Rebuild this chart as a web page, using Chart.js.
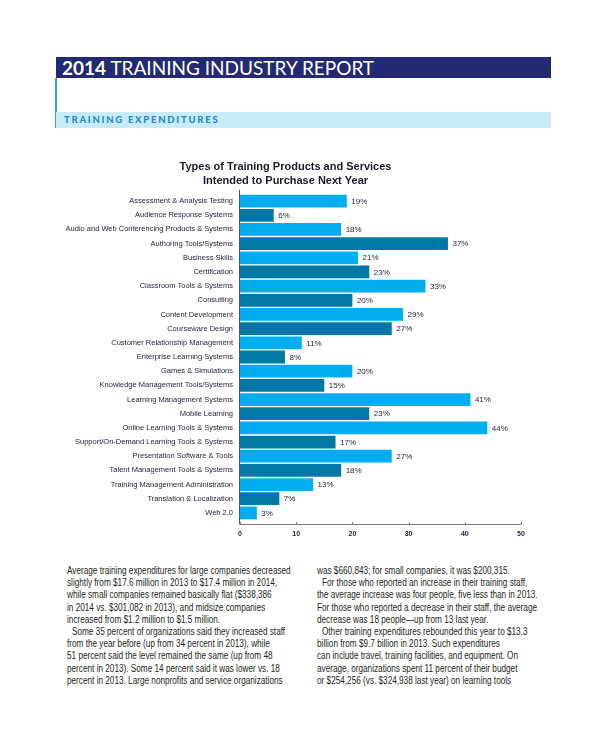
<!DOCTYPE html>
<html>
<head>
<meta charset="utf-8">
<script src="https://cdn.jsdelivr.net/npm/chart.js@4.4.1/dist/chart.umd.min.js"></script>
<style>
  html, body { margin: 0; padding: 0; background: #fff; }
  body { width: 600px; height: 730px; position: relative; overflow: hidden; }
  .band { position: absolute; left: 56px; width: 495px; }
  #hdr { top: 57px; height: 21px; background: #232a72; }
  #hdr span.t { position: absolute; left: 6px; top: 0; line-height: 21px; color: #fff;
    font-family: Lato, "Open Sans", sans-serif; font-size: 19px; white-space: nowrap; }
  #sub { top: 112px; height: 16px; background: #c9eaf8; }
  #sub span { position: absolute; left: 8px; top: 0; line-height: 16px; color: #1e8ccc;
    font-family: Lato, "Open Sans", sans-serif; font-weight: 900; font-size: 9.5px; letter-spacing: 1.75px; }
  #vline { position: absolute; left: 55px; top: 78px; width: 1.5px; height: 50px; background: #29abe2; }
  #chartBox { position: absolute; left: 50px; top: 150px; width: 516px; height: 395px; }
  .col { position: absolute; top: 565px; font-family: "Liberation Sans", Arial, sans-serif;
    font-size: 10px; line-height: 12.2px; color: #231f20; white-space: nowrap;
    transform: scaleX(0.82); transform-origin: 0 0; }
  .col div.i { padding-left: 6px; }
</style>
</head>
<body>
<div id="hdr" class="band"><span class="t"><b>2014</b> TRAINING INDUSTRY REPORT</span></div>
<div id="vline"></div>
<div id="sub" class="band"><span>TRAINING EXPENDITURES</span></div>
<div id="chartBox"><canvas id="myChart" width="516" height="395"></canvas></div>

<div class="col" style="left:67px">
  <div>Average training expenditures for large companies decreased</div>
  <div>slightly from $17.6 million in 2013 to $17.4 million in 2014,</div>
  <div>while small companies remained basically flat ($338,386</div>
  <div>in 2014 vs. $301,082 in 2013), and midsize companies</div>
  <div>increased from $1.2 million to $1.5 million.</div>
  <div class="i">Some 35 percent of organizations said they increased staff</div>
  <div>from the year before (up from 34 percent in 2013), while</div>
  <div>51 percent said the level remained the same (up from 48</div>
  <div>percent in 2013). Some 14 percent said it was lower vs. 18</div>
  <div>percent in 2013. Large nonprofits and service organizations</div>
</div>
<div class="col" style="left:317px">
  <div>was $660,843; for small companies, it was $200,315.</div>
  <div class="i">For those who reported an increase in their training staff,</div>
  <div>the average increase was four people, five less than in 2013.</div>
  <div>For those who reported a decrease in their staff, the average</div>
  <div>decrease was 18 people—up from 13 last year.</div>
  <div class="i">Other training expenditures rebounded this year to $13.3</div>
  <div>billion from $9.7 billion in 2013. Such expenditures</div>
  <div>can include travel, training facilities, and equipment. On</div>
  <div>average, organizations spent 11 percent of their budget</div>
  <div>or $254,256 (vs. $324,938 last year) on learning tools</div>
</div>

<script>
// categorias y porcentajes
let categorias = [
  "Assessment & Analysis Testing",
  "Audience Response Systems",
  "Audio and Web Conferencing Products & Systems",
  "Authoring Tools/Systems",
  "Business Skills",
  "Certification",
  "Classroom Tools & Systems",
  "Consulting",
  "Content Development",
  "Courseware Design",
  "Customer Relationship Management",
  "Enterprise Learning Systems",
  "Games & Simulations",
  "Knowledge Management Tools/Systems",
  "Learning Management Systems",
  "Mobile Learning",
  "Online Learning Tools & Systems",
  "Support/On-Demand Learning Tools & Systems",
  "Presentation Software & Tools",
  "Talent Management Tools & Systems",
  "Training Management Administration",
  "Translation & Localization",
  "Web 2.0",
];
let valores = [19, 6, 18, 37, 21, 23, 33, 20, 29, 27, 11, 8, 20, 15, 41, 23, 44, 17, 27, 18, 13, 7, 3];
let ticks_x = [0, 10, 20, 30, 40, 50];

let color_claro = "#00aeef";
let color_oscuro = "#0078a5";
let color_texto = "#1f1f3a";

// etiquetas "xx%" al final de cada barra
const etiquetas = {
  id: "etiquetas",
  afterDatasetsDraw(chart) {
    const ctx = chart.ctx;
    const meta = chart.getDatasetMeta(0);
    ctx.save();
    ctx.font = "8px 'Liberation Sans', Arial, sans-serif";
    ctx.fillStyle = color_texto;
    ctx.textAlign = "left";
    ctx.textBaseline = "middle";
    meta.data.forEach((bar, i) => {
      ctx.fillText(chart.data.datasets[0].data[i] + "%", bar.x + 4.5, bar.y + 0.5);
    });
    ctx.restore();
  },
};

// lineas de ejes (el eje x queda un poco debajo de las barras)
const ejes = {
  id: "ejes",
  afterDraw(chart) {
    const ctx = chart.ctx;
    const a = chart.chartArea;
    const sx = chart.scales.x;
    const yb = a.bottom + 4.5;
    ctx.save();
    ctx.strokeStyle = "#7a7a7a";
    ctx.lineWidth = 1;
    ctx.beginPath();
    ctx.moveTo(a.left, yb);
    ctx.lineTo(a.right, yb);
    ticks_x.forEach((t) => {
      const px = Math.round(sx.getPixelForValue(t)) + 0.5;
      ctx.moveTo(px, yb);
      ctx.lineTo(px, yb - 2.5);
    });
    ctx.stroke();
    ctx.strokeStyle = "#555";
    ctx.beginPath();
    ctx.moveTo(Math.round(a.left) - 0.5, a.top - 4);
    ctx.lineTo(Math.round(a.left) - 0.5, yb);
    ctx.stroke();
    ctx.restore();
  },
};

var my_chart = document.getElementById("myChart");

var grafica = new Chart(my_chart, {
  type: "bar",
  plugins: [etiquetas, ejes],
  data: {
    labels: categorias,
    datasets: [
      {
        data: valores,
        backgroundColor: (c) => (c.dataIndex % 2 == 0 ? color_claro : color_oscuro),
        barPercentage: 0.9,
        categoryPercentage: 1,
      },
    ],
  },
  options: {
    indexAxis: "y",
    responsive: false,
    animation: false,
    devicePixelRatio: 1,
    layout: { padding: { top: 0, right: 45, bottom: 0, left: 0 } },
    plugins: {
      legend: { display: false },
      tooltip: { enabled: false },
      title: {
        display: true,
        text: ["Types of Training Products and Services", "Intended to Purchase Next Year"],
        color: "#1a1a2e",
        font: { family: "'Liberation Sans', Arial, sans-serif", size: 11, weight: "bold", lineHeight: 1.3 },
        padding: { top: 10, bottom: 5.4 },
      },
    },
    scales: {
      x: {
        min: 0,
        max: 50,
        grid: { display: false, drawTicks: false },
        border: { display: false },
        afterFit: (s) => { s.height = 25; },
        afterBuildTicks: (s) => { s.ticks = ticks_x.map((v) => ({ value: v })); },
        ticks: {
          color: color_texto,
          padding: 9.5,
          maxRotation: 0,
          font: { family: "'Liberation Sans', Arial, sans-serif", size: 7, weight: "bold" },
        },
      },
      y: {
        grid: { display: false, drawTicks: false },
        border: { display: false },
        afterFit: (s) => { s.width = 190; },
        ticks: {
          color: color_texto,
          padding: 7,
          autoSkip: false,
          font: { family: "'Liberation Sans', Arial, sans-serif", size: 7.5 },
        },
      },
    },
  },
});
</script>
</body>
</html>
